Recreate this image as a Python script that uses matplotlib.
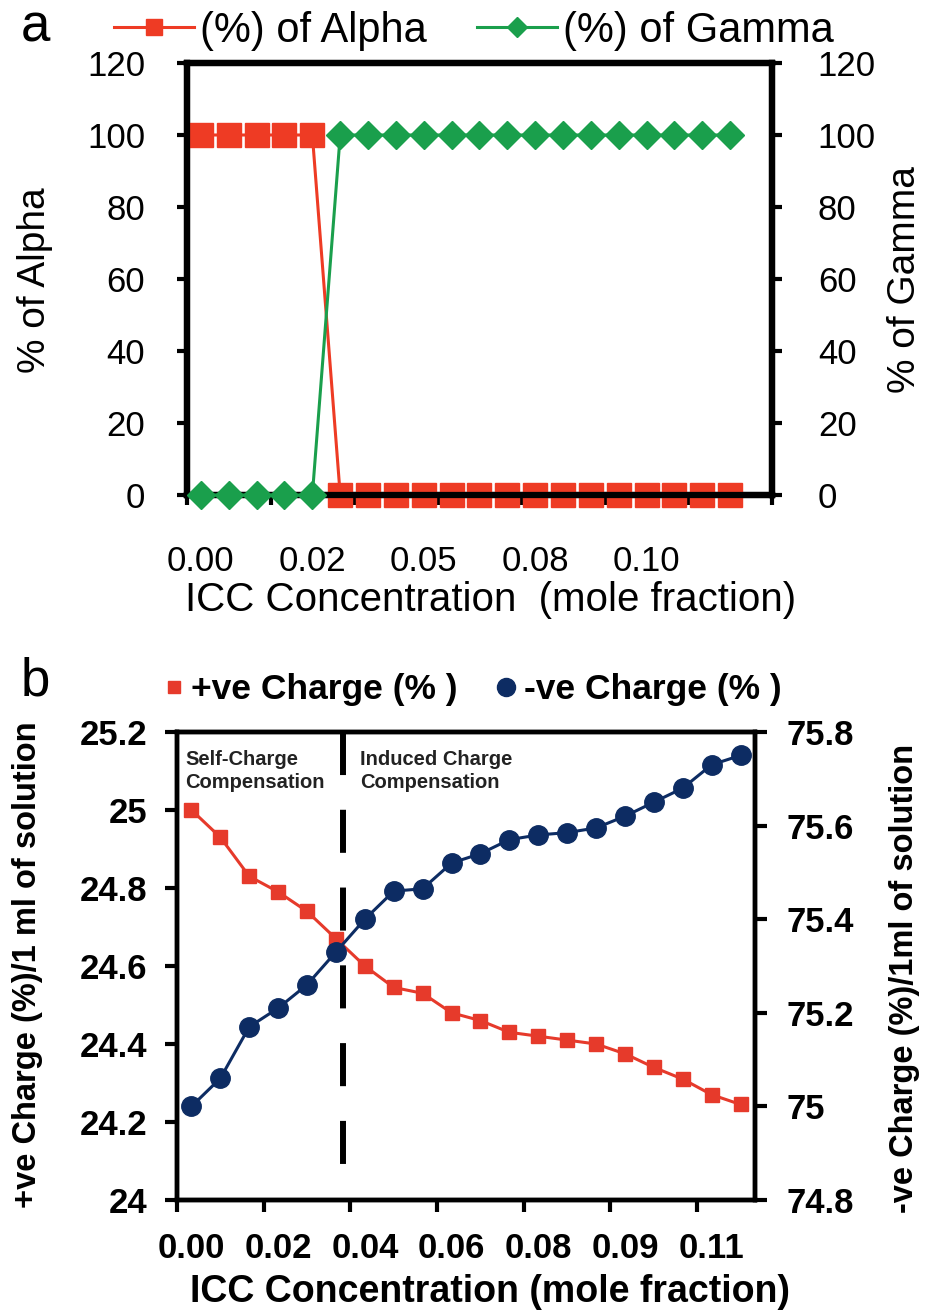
import matplotlib
matplotlib.use("Agg")
import matplotlib.pyplot as plt
import numpy as np
from matplotlib.lines import Line2D
from matplotlib.ticker import FuncFormatter

W, H, DPI = 929, 1314, 100

# ---- panel a: phase percentage vs ICC concentration ---------------------
conc_a_labels = ["0.00", "0.02", "0.05", "0.08", "0.10"]
conc_a_label_idx = [0, 4, 8, 12, 16]
alpha_pct = [100, 100, 100, 100, 100, 0, 0, 0, 0, 0,
             0, 0, 0, 0, 0, 0, 0, 0, 0, 0]
gamma_pct = [0, 0, 0, 0, 0, 100, 100, 100, 100, 100,
             100, 100, 100, 100, 100, 100, 100, 100, 100, 100]

# ---- panel b: charge share vs ICC concentration -------------------------
conc_b_labels = ["0.00", "0.02", "0.04", "0.06", "0.08", "0.09", "0.11"]
conc_b_label_idx = [0, 3, 6, 9, 12, 15, 18]
pos_charge = [25.00, 24.93, 24.83, 24.79, 24.74, 24.67, 24.60, 24.545, 24.53, 24.48,
              24.46, 24.43, 24.42, 24.41, 24.40, 24.375, 24.34, 24.31, 24.27, 24.245]
neg_charge = [75.00, 75.06, 75.17, 75.21, 75.26, 75.33, 75.40, 75.46, 75.465, 75.52,
              75.54, 75.57, 75.58, 75.585, 75.595, 75.62, 75.65, 75.68, 75.73, 75.75]
regime_boundary = 5.25   # dashed divider between the two compensation regimes

RED_A = "#EE3B24"
GREEN_A = "#1A9F4C"
RED_B = "#E63A2B"
NAVY_B = "#0D2C63"

plt.rcParams.update({"font.family": ["Liberation Sans", "DejaVu Sans"],
                     "lines.scale_dashes": False})

fig = plt.figure(figsize=(W / DPI, H / DPI), dpi=DPI)


def fx(px):
    return px / W


def fy(py):
    return 1 - py / H


def style_axes(ax, lw, tlen, twid):
    for s in ax.spines.values():
        s.set_linewidth(lw)
        s.set_color("black")
    ax.tick_params(which="major", direction="out", length=tlen, width=twid, color="black")


# ==== Panel a ============================================================
axa = fig.add_axes([fx(187), fy(495), fx(772) - fx(187), fy(63) - fy(495)])
axa2 = axa.twinx()
xa = np.arange(len(alpha_pct))
axa.plot(xa, alpha_pct, color=RED_A, lw=2.2, marker="s", ms=17, mec=RED_A,
         zorder=4, clip_on=False)
axa2.plot(xa, gamma_pct, color=GREEN_A, lw=2.2, marker="D", ms=14, mec=GREEN_A,
          zorder=4, clip_on=False)

for ax in (axa, axa2):
    ax.set_ylim(0, 120)
    ax.set_yticks(np.arange(0, 121, 20))
    style_axes(ax, 4.5, 7, 3)
axa.set_xlim(-0.5, len(alpha_pct) + 0.5)
axa.set_xticks(np.arange(-0.5, len(alpha_pct) + 1, 3))
axa.set_xticklabels([])
axa.set_xticks(conc_a_label_idx, conc_a_labels, minor=True)
axa.tick_params(axis="x", which="minor", length=0, pad=36, labelsize=25)
axa.tick_params(axis="y", labelsize=25, pad=23)
axa2.tick_params(axis="y", labelsize=25, pad=26)

fig.text(fx(491), fy(600), "ICC Concentration  (mole fraction)", fontsize=29,
         ha="center", va="center")
fig.text(fx(35), fy(280), "% of Alpha", fontsize=28, rotation=90,
         ha="center", va="center")
fig.text(fx(905), fy(280), "% of Gamma", fontsize=28, rotation=90,
         ha="center", va="center")
fig.text(fx(35), fy(28), "a", fontsize=38, ha="center", va="center")

leg_a = [Line2D([], [], color=RED_A, lw=2.2, marker="s", ms=12),
         Line2D([], [], color=GREEN_A, lw=2.2, marker="D", ms=10)]
fig.legend(leg_a, ["(%) of Alpha", "(%) of Gamma"], loc="center left",
           bbox_to_anchor=(fx(114), fy(31)), ncol=2, frameon=False, fontsize=30,
           handlelength=1.92, handletextpad=0.15, columnspacing=1.2,
           borderpad=0, borderaxespad=0)

# ==== Panel b ============================================================
axb = fig.add_axes([fx(177), fy(1200), fx(755) - fx(177), fy(732) - fy(1200)])
axb2 = axb.twinx()
xb = np.arange(len(pos_charge))
axb.plot([regime_boundary, regime_boundary], [25.2, 24.0], color="black", lw=4.3,
         dashes=(31, 25), zorder=1.5)
axb.plot(xb, pos_charge, color=RED_B, lw=2.2, marker="s", ms=10, zorder=3)
axb2.plot(xb, neg_charge, color=NAVY_B, lw=2.2, marker="o", ms=14, zorder=3)

axb.set_xlim(-0.5, len(pos_charge) - 0.5)
axb.set_ylim(24.0, 25.2)
axb2.set_ylim(74.8, 75.8)
gfmt = FuncFormatter(lambda v, p: f"{round(v, 2):g}")
axb.set_yticks(np.arange(24.0, 25.21, 0.2))
axb2.set_yticks(np.arange(74.8, 75.81, 0.2))
for ax in (axb, axb2):
    style_axes(ax, 3.2, 8.5, 3)
    ax.yaxis.set_major_formatter(gfmt)
axb.set_xticks(np.arange(-0.5, len(pos_charge), 3))
axb.set_xticklabels([])
axb.set_xticks(conc_b_label_idx, conc_b_labels, minor=True)
axb.tick_params(axis="x", which="minor", length=0, pad=23, labelsize=25)
axb.tick_params(axis="y", labelsize=25, pad=13)
axb2.tick_params(axis="y", labelsize=25, pad=14)
for lbl in (axb.get_xticklabels(minor=True) + axb.get_yticklabels()
            + axb2.get_yticklabels()):
    lbl.set_fontweight("bold")

fig.text(fx(490), fy(1292), "ICC Concentration (mole fraction)", fontsize=27,
         fontweight="bold", ha="center", va="center")
fig.text(fx(28), fy(965), "+ve Charge (%)/1 ml of solution", fontsize=23.5,
         fontweight="bold", rotation=90, ha="center", va="center")
fig.text(fx(905), fy(978), "-ve Charge (%)/1ml of solution", fontsize=23.5,
         fontweight="bold", rotation=90, ha="center", va="center")
fig.text(fx(35), fy(682), "b", fontsize=38, ha="center", va="center")
fig.text(fx(185), fy(750), "Self-Charge\nCompensation", fontsize=14.5,
         fontweight="bold", ha="left", va="top", linespacing=1.3, color="#222222")
fig.text(fx(360), fy(750), "Induced Charge\nCompensation", fontsize=14.5,
         fontweight="bold", ha="left", va="top", linespacing=1.3, color="#222222")

leg_b = [Line2D([], [], color=RED_B, ls="none", marker="s", ms=9),
         Line2D([], [], color=NAVY_B, ls="none", marker="o", ms=13)]
fig.legend(leg_b, ["+ve Charge (% )", "-ve Charge (% )"], loc="center left",
           bbox_to_anchor=(fx(163), fy(690)), ncol=2, frameon=False,
           prop={"size": 25.5, "weight": "bold"}, handlelength=0.6,
           handletextpad=0.2, columnspacing=1.07, borderpad=0, borderaxespad=0)

fig.savefig("out.png", dpi=DPI)
